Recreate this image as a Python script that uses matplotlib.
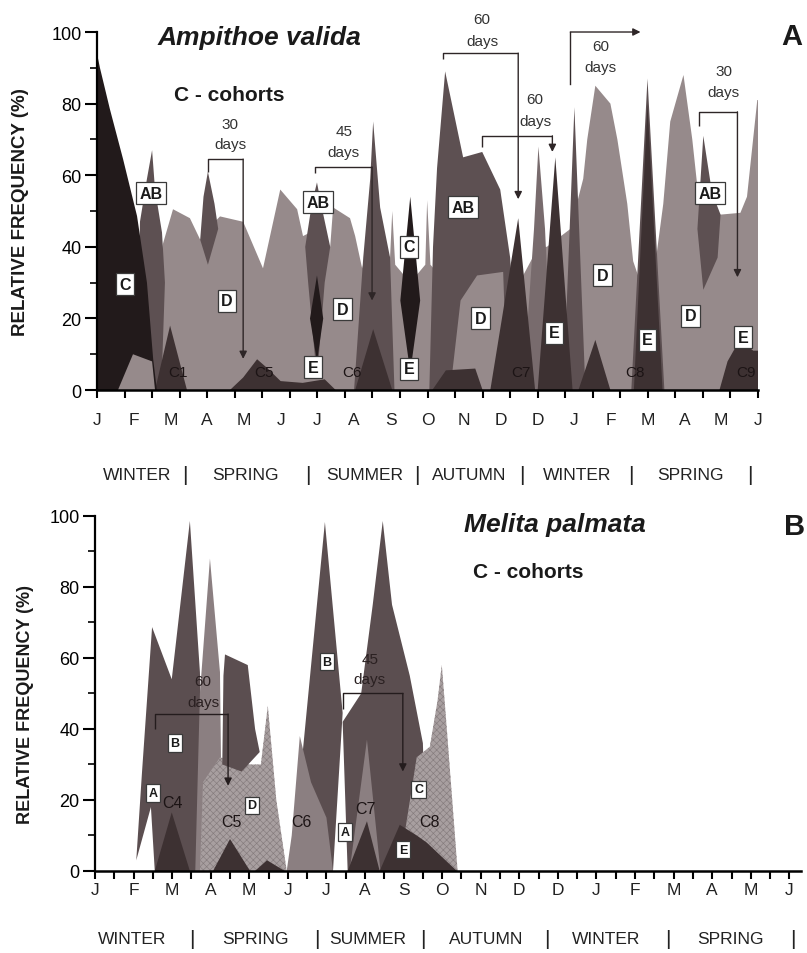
import matplotlib
matplotlib.use("Agg")
import matplotlib.pyplot as plt
import numpy as np
from matplotlib.ticker import MultipleLocator

plt.rcParams['font.family'] = ['Liberation Sans', 'DejaVu Sans']
plt.rcParams['hatch.linewidth'] = 0.45

# ---------------- DATA (x = months since first January, y = relative frequency %) ----------------
months = ['J', 'F', 'M', 'A', 'M', 'J', 'J', 'A', 'S', 'O', 'N', 'D', 'D', 'J', 'F', 'M', 'A', 'M', 'J']
seasons = ['WINTER', 'SPRING', 'SUMMER', 'AUTUMN', 'WINTER', 'SPRING']

# Panel A - Ampithoe valida
A_D_x = [1.50, 1.60, 1.80, 2.07, 2.53, 2.81, 3.02, 3.35, 3.98, 4.52, 4.99, 5.45, 5.61, 5.99, 6.35, 6.43,
         6.89, 7.03, 7.22, 7.52, 7.98, 8.04, 8.12, 8.53, 8.94, 8.99, 9.08, 9.50, 10.5, 11.5, 12.02, 12.25,
         12.89, 13.24, 13.35, 13.57, 13.98, 14.17, 14.44, 14.60, 14.80, 15.20, 15.42, 15.61, 15.97, 16.21,
         16.43, 16.98, 17.52, 17.70, 17.98, 18.0, 18.0]
A_D_y = [0, 30, 41, 50.5, 48, 42, 45, 48.5, 47, 34, 56, 50.5, 43, 45, 40, 51,
         48, 43, 34, 45, 37, 50, 35, 30, 35, 53, 35, 30, 30, 30, 40, 40,
         45, 59, 70, 85, 80, 70, 52, 36, 30, 35, 52, 75, 88, 70,
         49, 49, 49.5, 54, 81, 81, 0]
A_mid_x = [11.60, 11.90, 12.02, 12.20, 12.40]
A_mid_y = [0, 45, 68, 45, 0]
A_AB1_x = [1.10, 1.17, 1.36, 1.50, 1.58, 1.77, 1.85, 1.75]
A_AB1_y = [0, 47, 59, 67, 56, 44, 30, 0]
A_AB2_x = [3.02, 2.81, 2.90, 3.02, 3.20, 3.30]
A_AB2_y = [35, 42, 54, 61, 52, 45]
A_AB3_x = [5.99, 5.75, 5.67, 5.85, 5.99, 6.10, 6.35, 6.20]
A_AB3_y = [3, 30, 40, 52, 58, 52, 40, 30]
A_AB4_x = [7.00, 7.25, 7.44, 7.52, 7.71, 7.98, 8.10]
A_AB4_y = [0, 37, 59, 75, 51, 37, 0]
A_AB5_x = [9.05, 9.15, 9.26, 9.48, 9.97, 10.49, 10.98, 11.25, 11.39, 11.45]
A_AB5_y = [0, 40, 62, 89, 65, 66.5, 56, 37, 16, 0]
A_AB6_x = [12.70, 13.00, 13.30]
A_AB6_y = [0, 79, 0]
A_AB7_x = [14.55, 14.99, 15.45]
A_AB7_y = [0, 87, 0]
A_AB8_x = [16.51, 16.35, 16.51, 16.75, 16.98, 16.90]
A_AB8_y = [28, 45, 71, 55, 49, 37]
A_Dblob_x = [9.62, 9.90, 10.35, 11.06, 11.17]
A_Dblob_y = [0, 25, 32, 33, 0]
A_E1_x = [10.71, 11.47, 11.93]
A_E1_y = [0, 48, 0]
A_E2_x = [12.00, 12.48, 12.95]
A_E2_y = [0, 65, 0]
A_E3_x = [14.62, 14.99, 15.40]
A_E3_y = [0, 80, 0]
A_E4_x = [16.95, 17.17, 17.50, 17.87, 18.0, 18.0]
A_E4_y = [0, 8, 14, 11, 11, 0]
A_C1_x = [1.58, 1.99, 2.45]
A_C1_y = [0, 18, 0]
A_C5_x = [3.62, 3.98, 4.36, 4.65, 5.00, 5.60, 6.20, 6.50]
A_C5_y = [0, 3.5, 8.6, 6, 2.5, 2, 3, 0]
A_C6_x = [7.03, 7.52, 8.04]
A_C6_y = [0, 17, 0]
A_C7_x = [9.13, 9.50, 10.30, 10.50]
A_C7_y = [0, 5.5, 6, 0]
A_C8_x = [13.11, 13.57, 13.98]
A_C8_y = [0, 14, 0]
A_Cbig_x = [0, 0, 0.08, 0.35, 0.71, 1.09, 1.36, 1.53, 1.63]
A_Cbig_y = [0, 94, 90, 78.5, 64.5, 48.6, 30, 8.6, 0]
A_Cspike_x = [8.53, 8.26, 8.53, 8.80]
A_Cspike_y = [5, 25, 54, 25]
A_Cin_x = [5.99, 5.80, 5.99, 6.16]
A_Cin_y = [8, 20, 32, 20]
A_bump_x = [0.57, 0.98, 1.50, 1.58]
A_bump_y = [0, 10, 8, 0]

A_boxes = [('AB', 1.47, 55), ('C', 0.76, 29.6), ('D', 3.54, 25), ('AB', 6.02, 52.5), ('D', 6.68, 22.6),
           ('E', 5.89, 6.4), ('C', 8.50, 40), ('E', 8.50, 6), ('AB', 9.97, 51), ('D', 10.44, 20),
           ('E', 12.45, 16), ('D', 13.76, 32), ('E', 14.99, 14), ('AB', 16.70, 55), ('D', 16.16, 20.7),
           ('E', 17.60, 14.8)]
A_cohorts = [('C1', 2.21, 5), ('C5', 4.55, 5), ('C6', 6.95, 5), ('C7', 11.55, 5), ('C8', 14.66, 5),
             ('C9', 17.66, 5)]

# Panel B - Melita palmata
B_Ba_x = [1.07, 1.22, 1.48, 1.99, 2.46, 2.72, 2.85, 1.55, 1.45]
B_Ba_y = [3, 28, 68.7, 54, 98.6, 56, 0, 0, 18]
B_A1_x = [2.60, 2.72, 2.98, 3.24, 3.30]
B_A1_y = [0, 50, 88, 56, 0]
B_D_x = [2.72, 2.80, 3.24, 4.00, 4.30, 4.48, 4.70, 4.97]
B_D_y = [0, 25, 32, 30, 30, 46.5, 20, 0]
B_Bb_x = [3.30, 3.33, 3.37, 3.96, 4.15, 4.27, 3.80]
B_Bb_y = [30, 55, 61, 58, 40, 33.5, 28]
B_C4_x = [1.55, 1.99, 2.46]
B_C4_y = [0, 16.5, 0]
B_C5_x = [3.06, 3.50, 4.02]
B_C5_y = [0, 9, 0]
B_Cs_x = [4.15, 4.46, 4.92]
B_Cs_y = [0, 3, 0]
B_B2_x = [5.10, 5.31, 5.96, 6.42, 6.17]
B_B2_y = [0, 25, 98.3, 44.5, 0]
B_C6_x = [4.97, 5.10, 5.31, 5.60, 6.00, 6.17]
B_C6_y = [0, 10, 38, 25, 15, 0]
B_B3_x = [6.55, 6.42, 6.90, 7.20, 7.46, 7.70, 8.16, 8.50, 8.60]
B_B3_y = [0, 42, 50, 75, 98.6, 75, 55, 36, 0]
B_A2_x = [6.60, 7.05, 7.40]
B_A2_y = [0, 37, 0]
B_C_x = [8.05, 8.34, 8.68, 8.88, 8.99, 9.12, 9.40, 8.60]
B_C_y = [12, 32, 35, 48, 58, 40, 0, 0]
B_E_x = [7.38, 7.90, 8.34, 8.60, 9.38]
B_E_y = [0, 13, 10, 8, 0]
B_C7_x = [6.55, 7.05, 7.38]
B_C7_y = [0, 14, 0]

B_boxes = [('A', 1.50, 22), ('B', 2.07, 36), ('D', 4.07, 18.5), ('B', 6.01, 59), ('A', 6.48, 11),
           ('C', 8.39, 23), ('E', 7.98, 6)]
B_cohorts = [('C4', 2.02, 19.4), ('C5', 3.55, 14), ('C6', 5.36, 14), ('C7', 7.0, 17.5), ('C8', 8.68, 14)]

# ---------------- STYLE ----------------
BLACK = '#221a1b'
DARK = '#3d3132'
MED = '#5d5052'
MID = '#786b6d'
LIGHT = '#968a8b'
B_MED = '#5b4e50'
B_LIGHT = '#8b7f81'
B_HATCH = '#a89fa0'
ANN = '#2e2627'

fig = plt.figure(figsize=(8.07, 9.54), dpi=100)
axA = fig.add_axes([0.1202, 0.5901, 0.8191, 0.3753])
axB = fig.add_axes([0.1177, 0.0860, 0.8748, 0.3721])


def style(ax, xmax, xstep):
    ax.set_xlim(0, xmax)
    ax.set_ylim(0, 100)
    for s in ['top', 'right']:
        ax.spines[s].set_visible(False)
    ax.spines['left'].set_linewidth(1.6)
    ax.spines['bottom'].set_linewidth(1.8)
    ax.set_xticks(np.arange(0, 18.001, xstep))
    ax.set_xticklabels([])
    ax.tick_params(axis='x', direction='out', length=6, width=1.5)
    ax.yaxis.set_major_locator(MultipleLocator(20))
    ax.yaxis.set_minor_locator(MultipleLocator(10))
    ax.tick_params(axis='y', which='major', direction='out', length=9, width=1.5, labelsize=13, pad=2)
    ax.tick_params(axis='y', which='minor', direction='out', length=5, width=1.2)


def area(ax, xs, ys, color, hatch=None):
    if hatch:
        ax.fill(xs, ys, facecolor=color, edgecolor='#857b7d', hatch=hatch, linewidth=0)
    else:
        ax.fill(xs, ys, facecolor=color, edgecolor='none', linewidth=0)


def box(ax, s, x, y, fs):
    ax.text(x, y, s, ha='center', va='center', fontsize=fs, fontweight='bold', color='#1a1a1a',
            bbox=dict(boxstyle='square,pad=0.22', fc='white', ec='#3a3a3a', lw=0.9), zorder=6)


def bracket(ax, xs, ys, tip, color=ANN):
    ax.plot(xs, ys, color=color, lw=1.0, clip_on=False, zorder=6, solid_capstyle='butt')
    ax.annotate('', xy=(xs[-1], tip), xytext=(xs[-1], ys[-1]),
                arrowprops=dict(arrowstyle='-|>', color=color, lw=1.0, mutation_scale=11,
                                shrinkA=0, shrinkB=0), annotation_clip=False, zorder=6)


# ---------------- PANEL A ----------------
style(axA, 18, 0.75)
area(axA, A_D_x, A_D_y, LIGHT)
area(axA, A_mid_x, A_mid_y, MID)
for xs, ys in [(A_AB1_x, A_AB1_y), (A_AB2_x, A_AB2_y), (A_AB3_x, A_AB3_y), (A_AB4_x, A_AB4_y),
               (A_AB5_x, A_AB5_y), (A_AB6_x, A_AB6_y), (A_AB7_x, A_AB7_y), (A_AB8_x, A_AB8_y)]:
    area(axA, xs, ys, MED)
area(axA, A_Dblob_x, A_Dblob_y, LIGHT)
for xs, ys in [(A_E1_x, A_E1_y), (A_E2_x, A_E2_y), (A_E3_x, A_E3_y), (A_E4_x, A_E4_y),
               (A_C1_x, A_C1_y), (A_C5_x, A_C5_y), (A_C6_x, A_C6_y), (A_C7_x, A_C7_y), (A_C8_x, A_C8_y)]:
    area(axA, xs, ys, DARK)
for xs, ys in [(A_Cbig_x, A_Cbig_y), (A_Cspike_x, A_Cspike_y), (A_Cin_x, A_Cin_y)]:
    area(axA, xs, ys, BLACK)
area(axA, A_bump_x, A_bump_y, LIGHT)

for s, x, y in A_boxes:
    box(axA, s, x, y, 11.5)
for s, x, y in A_cohorts:
    axA.text(x, y, s, ha='center', va='center', fontsize=11, color='#1c1415', zorder=5)

# annotations A
bracket(axA, [3.02, 3.02, 3.98], [61, 64.5, 64.5], 8.7)
bracket(axA, [5.94, 5.94, 7.49], [60.5, 62.3, 62.3], 25)
bracket(axA, [9.43, 9.43, 11.47], [92.5, 94.1, 94.1], 53.3)
bracket(axA, [10.49, 10.49, 12.40], [68, 71, 71], 66.5)
bracket(axA, [16.38, 16.38, 17.44], [73.7, 77.7, 77.7], 31.5)
axA.plot([12.89, 12.89], [85.5, 100], color=ANN, lw=1.0, clip_on=False, zorder=6)
axA.annotate('', xy=(14.8, 100), xytext=(12.89, 100),
             arrowprops=dict(arrowstyle='-|>', color=ANN, lw=1.0, mutation_scale=11, shrinkA=0, shrinkB=0),
             annotation_clip=False, zorder=6)
for num, x, y1, y2 in [('30', 3.62, 74.3, 68.7), ('45', 6.72, 72.3, 66.5), ('60', 10.49, 103.6, 97.5),
                       ('60', 11.93, 81.3, 75.1), ('60', 13.71, 96.1, 90.2), ('30', 17.06, 89.1, 83.2)]:
    axA.text(x, y1, num, ha='center', va='center', fontsize=11, color='#333', zorder=6, clip_on=False)
    axA.text(x, y2, 'days', ha='center', va='center', fontsize=11, color='#333', zorder=6, clip_on=False)

tr = axA.get_xaxis_transform()
for i, m in enumerate(months):
    axA.text(i, -0.081, m, transform=tr, ha='center', va='center', fontsize=12.5, color='#222')
season_pos_A = [1.09, 4.03, 7.30, 10.14, 13.08, 16.16]
sep_pos_A = [2.40, 5.75, 8.72, 11.58, 14.55, 17.79]
for s, x in zip(seasons, season_pos_A):
    axA.text(x, -0.2346, s, transform=tr, ha='center', va='center', fontsize=12.5, color='#222')
for x in sep_pos_A:
    axA.text(x, -0.2346, '|', transform=tr, ha='center', va='center', fontsize=15, color='#222')

fig.text(0.321, 0.960, 'Ampithoe valida', ha='center', va='center', fontsize=19, fontweight='bold',
         style='italic', color='#1a1a1a')
fig.text(0.284, 0.900, 'C - cohorts', ha='center', va='center', fontsize=15, fontweight='bold', color='#1a1a1a')
fig.text(0.981, 0.961, 'A', ha='center', va='center', fontsize=21, fontweight='bold', color='#1a1a1a')
fig.text(0.0248, 0.778, 'RELATIVE FREQUENCY (%)', rotation=90, ha='center', va='center', fontsize=13.5,
         fontweight='bold', color='#1a1a1a')

# ---------------- PANEL B ----------------
style(axB, 18.3, 0.5)
area(axB, B_Ba_x, B_Ba_y, B_MED)
area(axB, B_A1_x, B_A1_y, B_LIGHT)
area(axB, B_D_x, B_D_y, B_HATCH, hatch='xxxxx')
area(axB, B_Bb_x, B_Bb_y, B_MED)
for xs, ys in [(B_C4_x, B_C4_y), (B_C5_x, B_C5_y), (B_Cs_x, B_Cs_y)]:
    area(axB, xs, ys, DARK)
area(axB, B_B2_x, B_B2_y, B_MED)
area(axB, B_C6_x, B_C6_y, B_LIGHT)
area(axB, B_B3_x, B_B3_y, B_MED)
area(axB, B_A2_x, B_A2_y, B_LIGHT)
area(axB, B_C_x, B_C_y, B_HATCH, hatch='xxxxx')
area(axB, B_E_x, B_E_y, DARK)
area(axB, B_C7_x, B_C7_y, DARK)

for s, x, y in B_boxes:
    box(axB, s, x, y, 9)
for s, x, y in B_cohorts:
    axB.text(x, y, s, ha='center', va='center', fontsize=11.5, color='#1c1415', zorder=5)

bracket(axB, [1.55, 1.55, 3.45], [40, 44.2, 44.2], 24, color='#241c1d')
bracket(axB, [6.42, 6.42, 7.98], [45.6, 50, 50], 28, color='#241c1d')
for num, x, y1, y2 in [('60', 2.80, 53.5, 47.6), ('45', 7.12, 59.7, 54)]:
    axB.text(x, y1, num, ha='center', va='center', fontsize=11, color='#2a2021', zorder=6)
    axB.text(x, y2, 'days', ha='center', va='center', fontsize=11, color='#2a2021', zorder=6)

trB = axB.get_xaxis_transform()
for i, m in enumerate(months):
    axB.text(i, -0.051, m, transform=trB, ha='center', va='center', fontsize=12.5, color='#222')
season_pos_B = [0.96, 4.15, 7.07, 10.13, 13.26, 16.48]
sep_pos_B = [2.51, 5.75, 8.50, 11.71, 14.84, 18.08]
for s, x in zip(seasons, season_pos_B):
    axB.text(x, -0.1915, s, transform=trB, ha='center', va='center', fontsize=12.5, color='#222')
for x in sep_pos_B:
    axB.text(x, -0.1915, '|', transform=trB, ha='center', va='center', fontsize=15, color='#222')

fig.text(0.688, 0.450, 'Melita palmata', ha='center', va='center', fontsize=19, fontweight='bold',
         style='italic', color='#1a1a1a')
fig.text(0.654, 0.400, 'C - cohorts', ha='center', va='center', fontsize=15, fontweight='bold', color='#1a1a1a')
fig.text(0.985, 0.448, 'B', ha='center', va='center', fontsize=21, fontweight='bold', color='#1a1a1a')
fig.text(0.031, 0.262, 'RELATIVE FREQUENCY (%)', rotation=90, ha='center', va='center', fontsize=13,
         fontweight='bold', color='#1a1a1a')

fig.savefig('out.png', dpi=100)
